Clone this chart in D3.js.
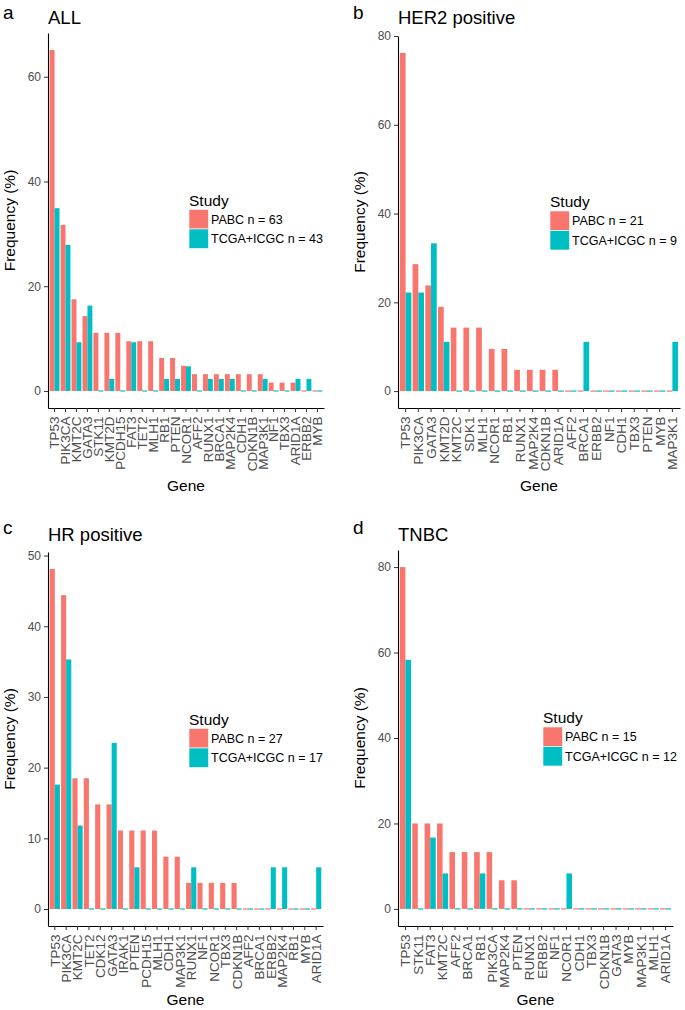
<!DOCTYPE html>
<html>
<head>
<meta charset="utf-8">
<script src="https://cdn.jsdelivr.net/npm/d3@7"></script>
<style>
  body { margin: 0; background: #fff; }
  svg { display: block; }
  text { font-family: "Liberation Sans", Arial, Helvetica, sans-serif; }
</style>
</head>
<body>
<svg id="fig" width="685" height="1010"></svg>
<script>
// ---- data (frequency %) ----
const studies = ["PABC", "TCGA+ICGC"];
const studyColors = ["#F8766D", "#00BFC4"];

const genesAll = ["TP53","PIK3CA","KMT2C","GATA3","STK11","KMT2D","PCDH15","FAT3","TET2","MLH1","RB1","PTEN","NCOR1","AFF2","RUNX1","BRCA1","MAP2K4","CDH1","CDKN1B","MAP3K1","NF1","TBX3","ARID1A","ERBB2","MYB"];
const pabcAll = [65.1,31.7,17.5,14.3,11.1,11.1,11.1,9.5,9.5,9.5,6.3,6.3,4.8,3.2,3.2,3.2,3.2,3.2,3.2,3.2,1.6,1.6,1.6,0,0];
const tcgaAll = [34.9,27.9,9.3,16.3,0,2.3,0,9.3,0,0,2.3,2.3,4.7,0,2.3,2.3,2.3,0,0,2.3,0,0,2.3,2.3,0];
const ticksAll = [0,20,40,60];
const nAll = [63, 43];

const genesHer2 = ["TP53","PIK3CA","GATA3","KMT2D","KMT2C","SDK1","MLH1","NCOR1","RB1","RUNX1","MAP2K4","CDKN1B","ARID1A","AFF2","BRCA1","ERBB2","NF1","CDH1","TBX3","PTEN","MYB","MAP3K1"];
const pabcHer2 = [76.2,28.6,23.8,19.0,14.3,14.3,14.3,9.5,9.5,4.8,4.8,4.8,4.8,0,0,0,0,0,0,0,0,0];
const tcgaHer2 = [22.2,22.2,33.3,11.1,0,0,0,0,0,0,0,0,0,0,11.1,0,0,0,0,0,0,11.1];
const ticksHer2 = [0,20,40,60,80];
const nHer2 = [21, 9];

const genesHr = ["TP53","PIK3CA","KMT2C","TET2","CDK12","GATA3","IRAK1","PTEN","PCDH15","MLH1","CDH1","MAP3K1","RUNX1","NF1","NCOR1","TBX3","CDKN1B","AFF2","BRCA1","ERBB2","MAP2K4","RB1","MYB","ARID1A"];
const pabcHr = [48.1,44.4,18.5,18.5,14.8,14.8,11.1,11.1,11.1,11.1,7.4,7.4,3.7,3.7,3.7,3.7,3.7,0,0,0,0,0,0,0];
const tcgaHr = [17.6,35.3,11.8,0,0,23.5,0,5.9,0,0,0,0,5.9,0,0,0,0,0,0,5.9,5.9,0,0,5.9];
const ticksHr = [0,10,20,30,40,50];
const nHr = [27, 17];

const genesTnbc = ["TP53","STK11","FAT3","KMT2C","AFF2","BRCA1","RB1","PIK3CA","MAP2K4","PTEN","RUNX1","ERBB2","NF1","NCOR1","CDH1","TBX3","CDKN1B","GATA3","MYB","MAP3K1","MLH1","ARID1A"];
const pabcTnbc = [80,20,20,20,13.3,13.3,13.3,13.3,6.7,6.7,0,0,0,0,0,0,0,0,0,0,0,0];
const tcgaTnbc = [58.3,0,16.7,8.3,0,0,8.3,0,0,0,0,0,0,8.3,0,0,0,0,0,0,0,0];
const ticksTnbc = [0,20,40,60,80];
const nTnbc = [15, 12];

const svg = d3.select("#fig");

function drawPanel(cfg) {
    const g = svg.append("g");
    const rows = cfg.genes.map((gene, i) => ({gene: gene, values: [cfg.pabc[i], cfg.tcga[i]]}));
    const ymax = d3.max(rows, d => d3.max(d.values));

    const x = d3.scaleBand()
        .domain(cfg.genes)
        .range([cfg.left, cfg.right])
        .paddingInner(0.1)
        .paddingOuter(0.15);
    const xs = d3.scaleBand()
        .domain(studies)
        .range([0, x.bandwidth()]);
    const y = d3.scaleLinear()
        .domain([-0.05 * ymax, 1.05 * ymax])
        .range([cfg.bottom, cfg.top]);

    // bars (zero values still show as a thin line on the baseline)
    const groups = g.selectAll("g.gene")
        .data(rows)
        .join("g")
        .attr("class", "gene")
        .attr("transform", d => `translate(${x(d.gene)},0)`);
    groups.selectAll("rect")
        .data(d => d.values.map((v, k) => ({study: studies[k], value: v, k: k})))
        .join("rect")
        .attr("x", d => xs(d.study))
        .attr("width", xs.bandwidth())
        .attr("y", d => d.value > 0 ? y(d.value) : y(0) - 0.6)
        .attr("height", d => d.value > 0 ? y(0) - y(d.value) : 1.2)
        .attr("fill", d => studyColors[d.k]);

    // axes
    const yaxis = d3.axisLeft(y).tickValues(cfg.ticks).tickSize(4).tickSizeOuter(0).tickPadding(3);
    const ya = g.append("g")
        .attr("transform", `translate(${cfg.left},0)`)
        .call(yaxis);
    const xaxis = d3.axisBottom(x).tickSize(4).tickSizeOuter(0);
    const xa = g.append("g")
        .attr("transform", `translate(0,${cfg.bottom})`)
        .call(xaxis);

    [ya, xa].forEach(a => {
        a.select(".domain").attr("stroke", "#000").attr("stroke-width", 1.1);
        a.selectAll(".tick line").attr("stroke", "#333").attr("stroke-width", 1);
        a.selectAll(".tick text").attr("fill", "#4d4d4d").attr("font-family", null);
    });
    ya.selectAll(".tick text").attr("font-size", "12px");
    xa.selectAll(".tick text")
        .attr("font-size", "13.5px")
        .attr("text-anchor", "end")
        .attr("transform", "rotate(-90)")
        .attr("x", -8.5)
        .attr("y", 0)
        .attr("dy", "0.36em");

    // axis titles
    g.append("text")
        .attr("transform", `translate(${cfg.left - 33},${(cfg.top + cfg.bottom) / 2}) rotate(-90)`)
        .attr("text-anchor", "middle")
        .attr("font-size", "15.5px")
        .attr("fill", "#000")
        .text("Frequency (%)");
    g.append("text")
        .attr("x", (cfg.left + cfg.right) / 2)
        .attr("y", cfg.geneY)
        .attr("text-anchor", "middle")
        .attr("font-size", "15.5px")
        .attr("fill", "#000")
        .text("Gene");

    // panel letter and title
    g.append("text")
        .attr("x", cfg.letterX)
        .attr("y", cfg.letterY)
        .attr("font-size", "19px")
        .attr("fill", "#000")
        .text(cfg.letter);
    g.append("text")
        .attr("x", cfg.left)
        .attr("y", cfg.titleY)
        .attr("font-size", "18.5px")
        .attr("fill", "#000")
        .text(cfg.title);

    // legend
    const lg = g.append("g").attr("transform", `translate(${cfg.legX},${cfg.legY})`);
    lg.append("text")
        .attr("x", 0)
        .attr("y", -4)
        .attr("font-size", "15.5px")
        .attr("fill", "#000")
        .text("Study");
    studies.forEach((s, k) => {
        lg.append("rect")
            .attr("x", 0)
            .attr("y", k * 19.5)
            .attr("width", 19.5)
            .attr("height", 19.5)
            .attr("fill", studyColors[k])
            .attr("stroke", "#fff")
            .attr("stroke-width", 0.6);
        lg.append("text")
            .attr("x", 22)
            .attr("y", k * 19.5 + 9.75)
            .attr("dy", "0.36em")
            .attr("font-size", "12.5px")
            .attr("fill", "#000")
            .text(`${s} n = ${cfg.n[k]}`);
    });
}

drawPanel({genes: genesAll, pabc: pabcAll, tcga: tcgaAll, ticks: ticksAll, n: nAll,
    left: 48, right: 324, top: 33, bottom: 408, geneY: 491,
    letter: "a", letterX: 3, letterY: 18.5, title: "ALL", titleY: 23.5,
    legX: 189, legY: 209.5});
drawPanel({genes: genesHer2, pabc: pabcHer2, tcga: tcgaHer2, ticks: ticksHer2, n: nHer2,
    left: 398, right: 680, top: 36, bottom: 408, geneY: 491,
    letter: "b", letterX: 353, letterY: 18.5, title: "HER2 positive", titleY: 23.5,
    legX: 550, legY: 211});
drawPanel({genes: genesHr, pabc: pabcHr, tcga: tcgaHr, ticks: ticksHr, n: nHr,
    left: 48, right: 323, top: 552, bottom: 926, geneY: 1005,
    letter: "c", letterX: 3, letterY: 533.5, title: "HR positive", titleY: 541,
    legX: 189, legY: 728.5});
drawPanel({genes: genesTnbc, pabc: pabcTnbc, tcga: tcgaTnbc, ticks: ticksTnbc, n: nTnbc,
    left: 398, right: 673, top: 550, bottom: 926, geneY: 1005,
    letter: "d", letterX: 353, letterY: 533.5, title: "TNBC", titleY: 541,
    legX: 543, legY: 727});
</script>
</body>
</html>
